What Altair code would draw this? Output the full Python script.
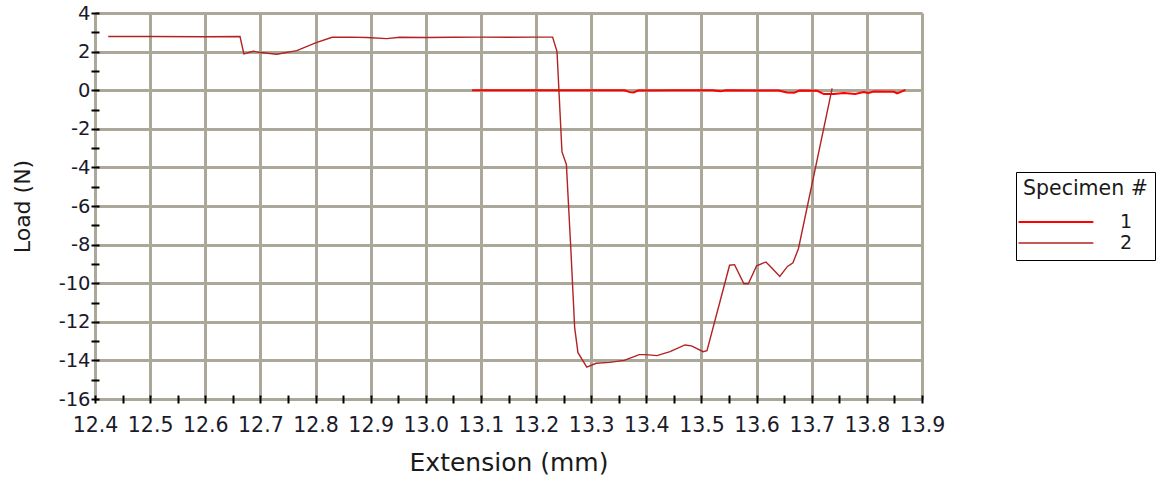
import altair as alt
import pandas as pd

# Specimen 1: load vs extension
ext_1 = [13.084, 13.15, 13.20, 13.25, 13.30, 13.36, 13.37, 13.377, 13.385, 13.45,
         13.52, 13.534, 13.545, 13.60, 13.64, 13.655, 13.668, 13.678, 13.71, 13.722,
         13.74, 13.758, 13.779, 13.794, 13.803, 13.812, 13.849, 13.855, 13.87]
load_1 = [0.0, 0.0, 0.0, 0.0, 0.0, 0.0, -0.1, -0.12, -0.02, 0.0,
          0.0, -0.06, 0.0, -0.02, -0.02, -0.12, -0.13, -0.02, -0.03, -0.2,
          -0.2, -0.14, -0.2, -0.1, -0.15, -0.07, -0.08, -0.17, 0.02]

# Specimen 2: load vs extension
ext_2 = [12.424, 12.50, 12.60, 12.663, 12.67, 12.687, 12.70, 12.73, 12.766, 12.80,
         12.83, 12.86, 12.893, 12.929, 12.953, 13.0, 13.05, 13.10, 13.15, 13.20,
         13.230, 13.238, 13.247, 13.255, 13.263, 13.270, 13.276, 13.292, 13.309, 13.333,
         13.360, 13.387, 13.399, 13.419, 13.443, 13.470, 13.482, 13.503, 13.510, 13.551,
         13.560, 13.577, 13.585, 13.600, 13.617, 13.629, 13.642, 13.656, 13.666, 13.676,
         13.737]
load_2 = [2.78, 2.78, 2.77, 2.78, 1.88, 2.02, 1.95, 1.86, 2.05, 2.45,
          2.74, 2.75, 2.73, 2.67, 2.74, 2.73, 2.74, 2.75, 2.74, 2.75,
          2.75, 2.0, -3.2, -3.85, -8.2, -12.3, -13.6, -14.35, -14.15, -14.1,
          -14.0, -13.7, -13.7, -13.75, -13.55, -13.2, -13.25, -13.55, -13.5, -9.07,
          -9.04, -10.03, -10.03, -9.1, -8.9, -9.25, -9.65, -9.13, -8.94, -8.2,
          0.1]

specimens = ["1", "2"]
specimen_colors = ["#ff0000", "#b22222"]
specimen_widths = [2.0, 1.4]

# Axis ticks: minor ticks every half step, labels and grid on the major ones
x_ticks = [round(12.4 + 0.05 * i, 2) for i in range(31)]
y_ticks = list(range(-16, 5))

FONT = "DejaVu Sans"
GRID = "#aca899"

df = pd.concat([
    pd.DataFrame({"ext": ext_1, "load": load_1, "spec": "1", "order": range(len(ext_1))}),
    pd.DataFrame({"ext": ext_2, "load": load_2, "spec": "2", "order": range(len(ext_2))}),
])

x_major = "abs(datum.value*10 - round(datum.value*10)) < 0.01"
y_major = "datum.value % 2 == 0"

x_axis = alt.Axis(
    values=x_ticks,
    title="Extension (mm)",
    labelExpr=f"{x_major} ? format(datum.value, '.1f') : ''",
    labelOverlap=False,
    labelFlush=False,
    labelFont=FONT, labelFontSize=20.5, labelColor="#1a1a2a", labelPadding=12,
    titleFont=FONT, titleFontSize=25, titleFontWeight="normal", titleColor="#1a1a1a",
    titlePadding=15,
    domain=False, offset=-4, tickSize=8, tickWidth=2, tickColor="black",
    grid=True, gridColor=GRID, gridWidth=3,
    gridOpacity={"condition": {"test": x_major, "value": 1}, "value": 0},
)

y_axis = alt.Axis(
    values=y_ticks,
    title="Load (N)",
    labelExpr=f"{y_major} ? ('' + datum.value) : ''",
    labelOverlap=False,
    labelFlush=False,
    labelFont=FONT, labelFontSize=19.5, labelColor="#1a1a2a", labelPadding=1,
    titleFont=FONT, titleFontSize=22, titleFontWeight="normal", titleColor="#1a1a1a",
    titlePadding=24,
    domain=False, offset=-4, tickSize=8, tickWidth=2, tickColor="black",
    grid=True, gridColor=GRID, gridWidth=3,
    gridOpacity={"condition": {"test": y_major, "value": 1}, "value": 0},
)

# Long horizontal stroke as the legend swatch
legend = alt.Legend(
    orient="none", legendX=921, legendY=159,
    strokeColor="black", fillColor="white", padding=7,
    symbolType="M-1.6,0H6.4", symbolSize=350,
    titleFont=FONT, titleFontSize=20.5, titleFontWeight="normal", titleColor="#1a1a1a",
    labelFont=FONT, labelFontSize=19, labelColor="#1a1a1a", labelOffset=76,
    titlePadding=12, rowPadding=0,
)

chart = alt.Chart(df).mark_line().encode(
    x=alt.X("ext:Q", scale=alt.Scale(domain=[12.4, 13.9], nice=False, zero=False), axis=x_axis),
    y=alt.Y("load:Q", scale=alt.Scale(domain=[-16, 4], nice=False, zero=False), axis=y_axis),
    color=alt.Color("spec:N", title="Specimen #",
                    scale=alt.Scale(domain=specimens, range=specimen_colors), legend=legend),
    strokeWidth=alt.StrokeWidth("spec:N", title="Specimen #",
                                scale=alt.Scale(domain=specimens, range=specimen_widths), legend=legend),
    order="order:Q",
).properties(
    width=827, height=386,
    autosize=alt.AutoSizeParams(type="none"),
    padding={"left": 95, "top": 13, "right": 240, "bottom": 84},
).configure_view(
    stroke="black", strokeWidth=3,
).configure(background="white")

chart.save("out.html", embed_options={"renderer": "svg", "actions": False})
